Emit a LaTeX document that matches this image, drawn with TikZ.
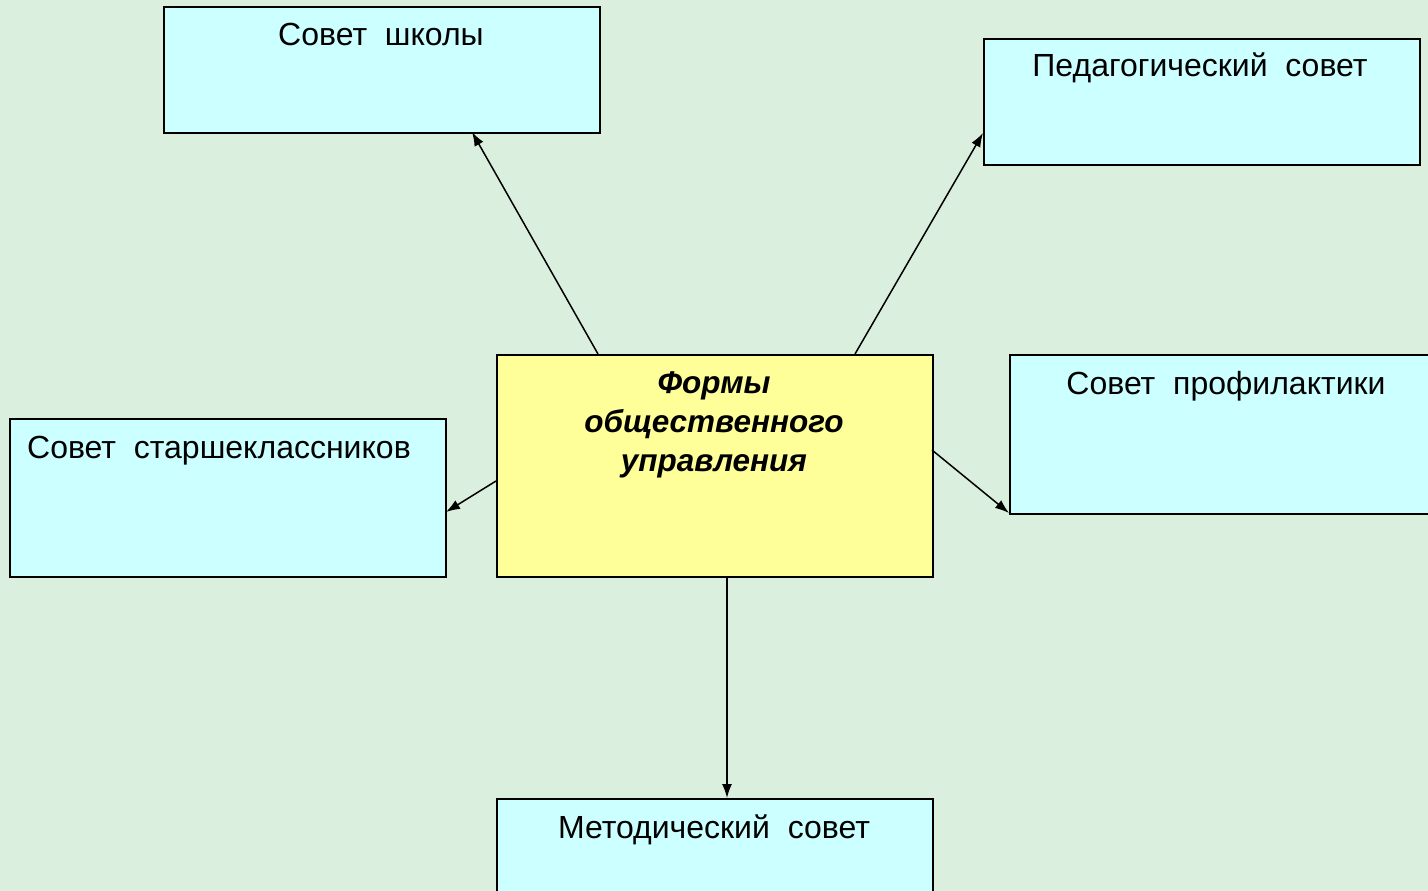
\documentclass[tikz,border=0pt]{standalone}
\usepackage{fontspec}
\setmainfont{Liberation Sans}
\usetikzlibrary{arrows.meta}
\definecolor{bg}{HTML}{DBEFDF}
\definecolor{cyanbox}{HTML}{CCFFFF}
\definecolor{yelbox}{HTML}{FFFF99}
\tikzset{
  box/.style={draw=black, line width=1.6pt, fill=cyanbox, rectangle, inner sep=0pt, anchor=north west},
  cbox/.style={box, fill=yelbox},
  lbl/.style={anchor=base, inner sep=0pt, font=\fontsize{32}{39}\selectfont},
  clbl/.style={anchor=base, inner sep=0pt, align=center, font=\fontsize{31.5}{39}\selectfont\bfseries\itshape},
  arr/.style={line width=1.5pt, -{Latex[length=14pt,width=10pt]}}
}
\begin{document}
\begin{tikzpicture}[x=1pt,y=-1pt]
\useasboundingbox (0,0) rectangle (1428,891);
\clip (0,0) rectangle (1428,891);
\fill[bg] (0,0) rectangle (1428,891);
% boxes
\node[box, minimum width=436pt, minimum height=126pt] (school) at (163,6) {};
\node[box, minimum width=436pt, minimum height=126pt] (ped) at (983,38) {};
\node[cbox, minimum width=436pt, minimum height=222pt] (center) at (496,354) {};
\node[box, minimum width=436pt, minimum height=159pt] (prof) at (1009,354) {};
\node[box, minimum width=436pt, minimum height=158pt] (senior) at (9,418) {};
\node[box, minimum width=436pt, minimum height=140pt] (method) at (496,798) {};
% labels
\node[lbl] (tschool) at (381,46) {Совет\ \ школы};
\node[lbl] (tped) at (1200,77) {Педагогический\ \ совет};
\node[lbl] (tprof) at (1226,394) {Совет\ \ профилактики};
\node[lbl] (tsenior) at (219,458) {Совет\ \ старшеклассников};
\node[lbl] (tmethod) at (714,838) {Методический\ \ совет};
\node[clbl] (c1) at (714,393) {Формы};
\node[clbl] (c2) at (714,432) {общественного};
\node[clbl] (c3) at (714,471) {управления};
% connectors
\coordinate (a1) at (598,354);
\coordinate (a2) at (855,354);
\coordinate (a3) at (496,481);
\coordinate (a4) at (932,450);
\coordinate (a5) at (727,576);
\coordinate (b1) at (472,132);
\coordinate (b2) at (983,133);
\coordinate (b3) at (446,512);
\coordinate (b4) at (1009,513);
\coordinate (b5) at (727,798);
\draw[arr] (a1) -- (b1);
\draw[arr] (a2) -- (b2);
\draw[arr] (a3) -- (b3);
\draw[arr] (a4) -- (b4);
\draw[arr] (a5) -- (b5);
\end{tikzpicture}
\end{document}
